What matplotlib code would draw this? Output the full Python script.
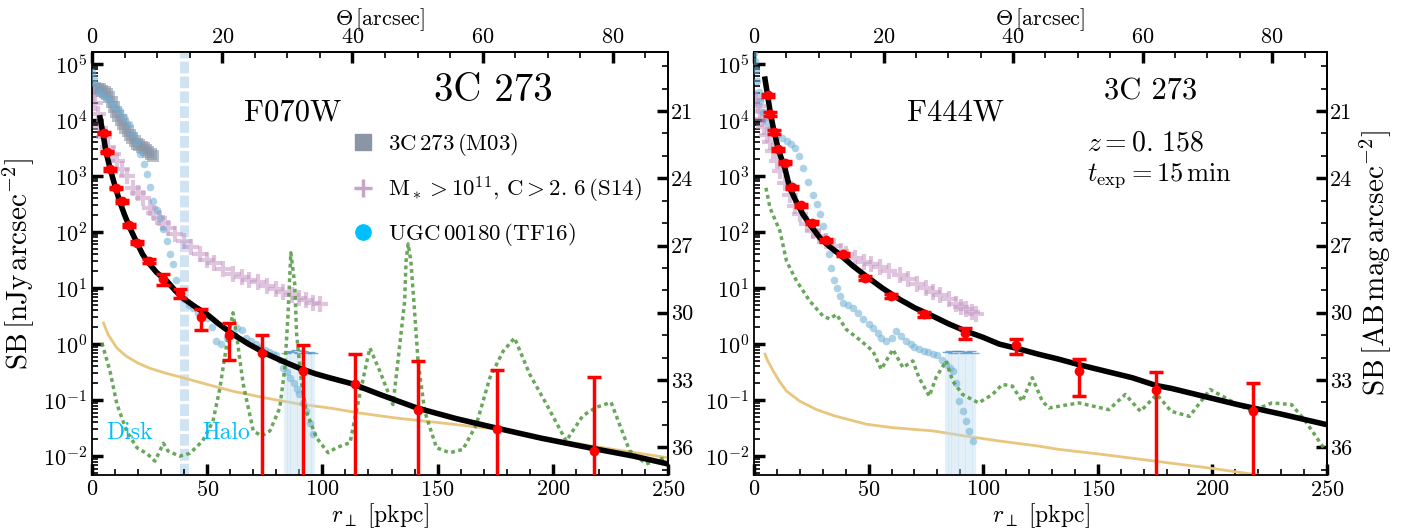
import numpy as np
import matplotlib
matplotlib.use("Agg")
import matplotlib.pyplot as plt
from matplotlib.lines import Line2D
from matplotlib.ticker import MultipleLocator, FormatStrFormatter, LogLocator, NullFormatter

plt.rcParams.update({
    "font.family": "serif",
    "font.serif": ["cmr10"],
    "mathtext.fontset": "cm",
    "axes.formatter.use_mathtext": True,
    "axes.linewidth": 1.3,
})

# ---------------- data (log10 SB in nJy/arcsec^2) ----------------
# F070W panel
m03_r = [0.5, 1.5, 2.5, 3.5, 4.5, 5.5, 6.5, 7.5, 8.5, 9.5, 10.5, 11.5, 12.5, 13.5,
         14.5, 15.5, 16.5, 17.5, 18.5, 19.5, 20.5, 21.5, 22.5, 23.5, 24.5, 25.5, 26.5]
m03_lsb = [4.55, 4.57, 4.56, 4.55, 4.52, 4.5, 4.47, 4.42, 4.33, 4.23, 4.14, 4.07, 4.0, 3.93,
           3.86, 3.8, 3.74, 3.68, 3.62, 3.58, 3.55, 3.52, 3.5, 3.47, 3.43, 3.39, 3.35]

s14_r_a = [0.5, 1.5, 2.5, 3.5, 5, 7, 9, 11, 13, 15, 18, 20, 22, 25, 27, 29, 31, 33, 36,
           40, 43, 47, 50, 53, 57, 61, 65, 68, 72, 76, 80, 83, 87, 90, 93, 96, 99]
s14_lsb_a = [4.45, 4.3, 4.1, 3.85, 3.7, 3.52, 3.4, 3.27, 3.12, 3.0, 2.79, 2.7, 2.6, 2.43, 2.34,
             2.25, 2.16, 2.07, 1.97, 1.84, 1.73, 1.6, 1.5, 1.44, 1.34, 1.25, 1.2, 1.15, 1.1,
             1.04, 0.98, 0.93, 0.87, 0.82, 0.78, 0.74, 0.71]

tf16_r_a = [0, 0.7, 1.5, 3, 4.5, 6.4, 8, 10, 12, 14, 16, 18, 19.5, 21, 22.5, 24, 25.3, 26.5,
            28, 29.5, 31, 32.5, 34, 35, 36.5, 38, 40, 42, 44, 46, 48, 50, 52, 54, 56, 58.5,
            61, 63, 65, 67, 69, 71, 73, 75, 77, 78.5, 80, 81.5, 83, 84.5, 86, 87.5, 89, 90,
            91.5, 93, 94.5, 96]
tf16_lsb_a = [4.85, 4.75, 4.65, 4.5, 4.45, 4.39, 4.32, 4.24, 4.16, 4.05, 3.93, 3.75, 3.6, 3.39,
              3.22, 3.03, 2.8, 2.55, 2.4, 2.25, 2.05, 1.84, 1.6, 1.43, 1.15, 0.89, 0.8, 0.7,
              0.64, 0.56, 0.5, 0.46, 0.3, 0.05, 0.0, 0.1, 0.2, 0.29, 0.25, 0.1, 0.05, 0.0,
              -0.07, -0.1, -0.15, -0.18, -0.2, -0.28, -0.43, -0.5, -0.6, -0.7, -0.8, -0.9,
              -1.05, -1.2, -1.4, -1.6]
tail_r_a = [84, 85.5, 87, 88.5, 90, 91.5, 93, 94.5, 96]
tail_up_a = [0.7, 0.75, 0.72, 0.78, 0.7, 0.74, 0.7, 0.72, 0.68]

model_r_a = [3.5, 4.8, 6, 7.8, 10, 12, 14, 16.5, 19, 22, 24, 28, 32.5, 36, 39.5, 45, 50, 55,
             61, 68, 76, 83, 90, 97, 103, 113, 125, 141, 158, 175.6, 195, 217, 235, 250]
model_lsb_a = [4.04, 3.75, 3.45, 3.14, 2.82, 2.55, 2.32, 2.07, 1.85, 1.6, 1.48, 1.28, 1.125,
               0.96, 0.82, 0.66, 0.53, 0.36, 0.18, 0.0, -0.18, -0.31, -0.43, -0.53, -0.6,
               -0.71, -0.9, -1.14, -1.33, -1.5, -1.68, -1.86, -2.0, -2.14]

orange_r_a = [5, 7, 10.8, 15, 20, 25, 32, 39.5, 50, 61, 75, 90, 103, 116, 132, 150, 175.6,
              200, 217, 250]
orange_lsb_a = [0.375, 0.17, -0.07, -0.22, -0.34, -0.43, -0.52, -0.6, -0.72, -0.84, -0.96,
                -1.07, -1.14, -1.23, -1.32, -1.4, -1.52, -1.7, -1.82, -2.03]

green_r_a = [4.3, 7.8, 10.8, 15, 19.5, 24, 27.3, 31, 33, 38, 42.5, 48, 52.5, 55.5, 58.5, 61.2,
             62.7, 65.6, 70, 73.6, 77.2, 81.5, 83.7, 85, 86.3, 88, 88.8, 91, 93, 97.4, 102.5,
             106, 112, 116.2, 120.6, 124.9, 130.6, 132.8, 135.7, 136.3, 137.2, 138.4, 140,
             141.5, 144.4, 149.5, 155.2, 161, 166.8, 172.6, 178.4, 183.4, 190, 197.2, 205.8,
             213, 218.8, 225.3, 233.3, 240.5, 249.2]
green_lsb_a = [0.02, -0.48, -1.07, -1.55, -1.85, -1.96, -2.09, -1.77, -1.91, -2.0, -1.95, -1.73,
               -1.38, -0.79, 0.0, 0.56, 0.17, -0.71, -1.55, -1.64, -1.55, -1.14, -0.42, 0.47,
               1.63, 1.07, 0.18, -0.71, -1.2, -1.67, -1.94, -1.85, -1.76, -0.9, -0.07, -0.48,
               -1.08, -0.3, 0.77, 1.48, 1.79, 1.48, 0.59, -0.3, -1.2, -1.85, -1.94, -1.88,
               -1.44, -0.61, -0.13, 0.11, -0.54, -1.07, -1.73, -1.28, -1.13, -1.04, -1.9,
               -2.14, -2.02]

red_r_a = [5.2, 6.4, 7.8, 10.4, 13.0, 16.0, 19.5, 24.7, 31.0, 38.0, 47.5, 59.5, 74.0, 91.6,
           114.0, 141.5, 175.6, 217.7]
red_sb_a = [5900, 2700, 1320, 617, 355, 132, 65, 30, 14.5, 8.1, 3.0, 1.45, 0.7, 0.33, 0.19,
            0.066, 0.03, 0.0123]
red_err_a = [300, 150, 70, 30, 18, 7, 4, 2.5, 3, 1.5, 1.2, 0.93, 0.75, 0.62, 0.47, 0.43,
             0.32, 0.25]

# F444W panel
s14_r_b = [0.3, 1, 1.8, 2.6, 3.5, 4.5, 5.5, 7, 8.4, 10, 11.3, 13.5, 15.6, 18, 20, 23, 25.8,
           28.5, 31.6, 35, 38, 40.3, 44, 48, 51, 54.8, 59, 63.5, 67, 71, 75, 78, 81, 85, 88,
           90.5, 92.5, 95, 97]
s14_lsb_b = [4.4, 4.35, 4.25, 4.16, 4.02, 3.88, 3.74, 3.6, 3.45, 3.27, 3.09, 2.88, 2.67, 2.47,
             2.32, 2.15, 2.02, 1.93, 1.84, 1.75, 1.66, 1.6, 1.53, 1.47, 1.43, 1.38, 1.3, 1.24,
             1.16, 1.08, 1.0, 0.93, 0.87, 0.8, 0.72, 0.67, 0.62, 0.57, 0.53]

tf16_r_b = [0, 0.4, 0.8, 1.2, 2, 2.6, 4, 5.5, 7.5, 9.9, 12, 14.2, 16, 17.8, 19.5, 21.4, 23.5,
            25.8, 27.3, 28.7, 30, 31.6, 32.7, 33.8, 35, 36, 37.5, 38.8, 41, 43.2, 45.5, 47.5,
            50, 51.9, 54, 55.5, 57.7, 60, 62, 64, 66.4, 68.5, 70, 72.2, 74, 76, 78, 80, 82,
            83.8, 85.5, 86.7, 88, 89.6, 91, 92.5, 94, 95.4]
tf16_lsb_b = [5.2, 5.05, 4.9, 4.7, 4.5, 4.34, 4.15, 3.98, 3.85, 3.74, 3.68, 3.63, 3.57, 3.5,
              3.35, 3.15, 2.9, 2.67, 2.5, 2.32, 2.1, 1.84, 1.6, 1.36, 1.15, 1.0, 0.85, 0.74,
              0.7, 0.65, 0.55, 0.44, 0.35, 0.29, 0.2, 0.1, 0.05, 0.1, 0.23, 0.15, 0.05, 0.0,
              -0.05, -0.095, -0.12, -0.15, -0.18, -0.2, -0.28, -0.36, -0.42, -0.48, -0.7,
              -1.02, -1.2, -1.38, -1.55, -1.73]
tail_r_b = [84, 85.5, 87, 88.5, 90, 91.5, 93, 94.5, 96]
tail_up_b = [0.72, 0.75, 0.7, 0.76, 0.74, 0.7, 0.73, 0.75, 0.7]

model_r_b = [4.8, 5.9, 7, 8.7, 10.5, 11.3, 13.4, 15.6, 18, 21.3, 25, 28.7, 33, 37.4, 43, 49,
             56, 63.5, 70, 78, 85, 92.5, 100, 107, 115, 124, 133, 142, 153, 165, 175.5, 182,
             196, 211, 230, 249]
model_lsb_b = [4.73, 4.45, 4.16, 3.8, 3.5, 3.39, 3.15, 2.79, 2.58, 2.32, 2.1, 1.9, 1.74, 1.6,
               1.4, 1.21, 1.0, 0.8, 0.65, 0.5, 0.36, 0.23, 0.12, 0.0, -0.08, -0.18, -0.27,
               -0.37, -0.48, -0.6, -0.74, -0.79, -0.93, -1.08, -1.25, -1.43]

orange_r_b = [4.8, 6, 8.4, 11, 14.2, 20, 27.3, 35, 49, 60, 78, 92, 107, 124, 133, 150, 175,
              200, 217, 235, 250]
orange_lsb_b = [-0.18, -0.3, -0.48, -0.66, -0.84, -1.02, -1.17, -1.28, -1.43, -1.49, -1.55,
                -1.64, -1.73, -1.82, -1.88, -1.96, -2.09, -2.22, -2.32, -2.42, -2.5]

green_r_b = [5.2, 7, 11.3, 14.2, 18.6, 24.3, 30.1, 33, 36, 40.3, 46, 51.9, 55.5, 60.6, 65,
             69.3, 72, 76.5, 79.4, 83.8, 86.7, 91, 98, 104, 108.4, 112.7, 117, 121.4, 125.8,
             128.7, 141.7, 154.8, 162, 168.6, 175.8, 182, 190, 199, 208.4, 217, 226, 234.5,
             240, 249]
green_lsb_b = [2.79, 2.43, 2.02, 1.48, 1.125, 0.77, 0.5, 0.45, 0.53, 0.26, 0.08, -0.125, -0.45,
               -0.095, -0.42, -0.3, -0.6, -0.93, -0.6, -0.3, -0.66, -0.9, -1.05, -0.9, -0.72,
               -0.75, -1.02, -0.6, -1.02, -1.14, -1.05, -1.17, -0.9, -1.2, -0.9, -1.2, -1.29,
               -0.81, -1.02, -1.2, -1.05, -1.08, -1.34, -1.88]

red_r_b = [5.9, 7.0, 8.7, 10.5, 13.4, 16.4, 20.7, 25.4, 31.3, 38.8, 48.3, 59.9, 74.3, 92.0,
           114.2, 141.7, 175.5, 217.8]
red_sb_b = [27500, 12900, 6200, 3000, 1740, 630, 300, 148, 71, 40, 15.1, 7.2, 3.4, 1.58, 0.95,
            0.33, 0.15, 0.063]
red_err_b = [2000, 900, 450, 200, 120, 45, 20, 10, 5, 3, 1.0, 0.6, 0.35, 0.35, 0.28, 0.21,
             0.17, 0.137]

# ---------------- helpers ----------------
KPC_PER_ARCSEC = 2.826
YLIM = (4.6e-3, 1.64e5)


def r2th(r):
    return np.asarray(r) / KPC_PER_ARCSEC


def th2r(t):
    return np.asarray(t) * KPC_PER_ARCSEC


def f2mag(f):
    f = np.clip(np.asarray(f, dtype=float), 1e-30, None)
    return 31.4 - 2.5 * np.log10(f)


def mag2f(m):
    return 10 ** ((31.4 - np.asarray(m, dtype=float)) / 2.5)


def p(v):
    return 10 ** np.asarray(v)


def style_axes(ax):
    ax.set_yscale("log")
    ax.set_xlim(0, 250)
    ax.set_ylim(*YLIM)
    ax.xaxis.set_major_locator(MultipleLocator(50))
    ax.xaxis.set_minor_locator(MultipleLocator(10))
    ax.yaxis.set_major_locator(LogLocator(base=10, numticks=20))
    ax.yaxis.set_minor_locator(LogLocator(base=10, subs=np.arange(2, 10), numticks=20))
    ax.yaxis.set_minor_formatter(NullFormatter())
    ax.tick_params(which="both", direction="in", top=False, right=False, labelsize=16)
    ax.tick_params(which="major", length=8, width=2.5)
    ax.tick_params(which="minor", length=4.5, width=1.2)
    ax.set_xlabel(r"$r_\perp\ [\mathrm{pkpc}]$", fontsize=17, labelpad=1)

    sx = ax.secondary_xaxis("top", functions=(r2th, th2r))
    sx.xaxis.set_major_locator(MultipleLocator(20))
    sx.xaxis.set_minor_locator(MultipleLocator(5))
    sx.xaxis.set_minor_formatter(NullFormatter())
    sx.tick_params(which="both", direction="in", labelsize=16)
    sx.tick_params(which="major", length=8, width=2.5)
    sx.tick_params(which="minor", length=4.5, width=1.2)
    sx.set_xlabel(r"$\Theta\,[\mathrm{arcsec}]$", fontsize=16, labelpad=2)

    sy = ax.secondary_yaxis("right", functions=(f2mag, mag2f))
    sy.yaxis.set_major_locator(MultipleLocator(3))
    sy.yaxis.set_minor_locator(MultipleLocator(1))
    sy.yaxis.set_major_formatter(FormatStrFormatter("%d"))
    sy.yaxis.set_minor_formatter(NullFormatter())
    sy.tick_params(which="both", direction="in", labelsize=16, pad=2)
    sy.tick_params(which="major", length=8, width=2.5)
    sy.tick_params(which="minor", length=4.5, width=1.2)
    return sy


def draw_profiles(ax, s14_r, s14_lsb, tf_r, tf_lsb, t_r, t_up, mr, ml, orr, orl, gr, gl,
                  rr, rsb, rerr):
    ax.plot(orr, p(orl), color="#e8c67e", lw=2, zorder=2)
    ax.plot(s14_r, p(s14_lsb), ls="none", marker="+", ms=12, mew=3, color="#c596c4",
            alpha=0.55, zorder=2)
    ax.vlines(t_r, YLIM[0], t_up, colors="#bcdaee", lw=3, alpha=0.4, zorder=2)
    ax.plot(t_r, t_up, ls="none", marker="_", ms=7, mew=1, color="#3d8cc6", alpha=0.7,
            zorder=3)
    ax.plot(tf_r, p(tf_lsb), ls="none", marker="o", ms=5.5, color="#6aaed6", alpha=0.55,
            mew=0, zorder=3)
    ax.plot(gr, p(gl), color="#5a9e4a", lw=2.5, ls=(0, (1.1, 1.0)), alpha=0.9, zorder=3)
    ax.plot(mr, p(ml), color="black", lw=4, zorder=4)
    ax.errorbar(rr, rsb, yerr=rerr, fmt="o", color="red", ms=6, elinewidth=2.5,
                capsize=5, capthick=2.5, zorder=5)


fig = plt.figure(figsize=(14.22, 5.31), dpi=100)
ax1 = fig.add_axes([92 / 1422, 1 - 475 / 531, 576 / 1422, 423 / 531])
ax2 = fig.add_axes([754 / 1422, 1 - 475 / 531, 573 / 1422, 423 / 531])

# ---- left panel: F070W ----
style_axes(ax1)
ax1.set_ylabel(r"$\mathrm{SB}\,[\mathrm{nJy\,arcsec^{-2}}]$", fontsize=21, labelpad=4)
ax1.axvline(40, color="#cfe3f2", lw=6.5, ls=(0, (1.3, 0.35)), zorder=1)
ax1.plot(m03_r, p(m03_lsb), ls="none", marker="s", ms=9, color="#8a95a5", alpha=0.6,
         mew=0, zorder=2)
draw_profiles(ax1, s14_r_a, s14_lsb_a, tf16_r_a, tf16_lsb_a, tail_r_a, tail_up_a,
              model_r_a, model_lsb_a, orange_r_a, orange_lsb_a, green_r_a, green_lsb_a,
              red_r_a, red_sb_a, red_err_a)
ax1.text(0.349, 0.856, "F070W", transform=ax1.transAxes, fontsize=22, ha="center",
         va="center")
ax1.text(0.697, 0.908, "3C 273", transform=ax1.transAxes, fontsize=28, ha="center",
         va="center")
ax1.text(6, 0.026, "Disk", color="#00bfff", fontsize=17, ha="left", va="center")
ax1.text(48, 0.026, "Halo", color="#00bfff", fontsize=17, ha="left", va="center")

handles = [
    Line2D([], [], ls="none", marker="s", ms=11, color="#8a95a5"),
    Line2D([], [], ls="none", marker="+", ms=13, mew=2.5, color="#c9a3c9"),
    Line2D([], [], ls="none", marker="o", ms=11, color="#00bfff"),
]
labels = [r"$\mathrm{3C\,273\,(M03)}$",
          r"$\mathrm{M_*>10^{11},\,C>2.\,6\,(S14)}$",
          r"$\mathrm{UGC\,00180\,(TF16)}$"]
ax1.legend(handles, labels, loc="upper left", bbox_to_anchor=(0.435, 0.835), frameon=False,
           fontsize=16.5, labelspacing=0.72, handletextpad=0.6, handlelength=1.0,
           borderaxespad=0)

# ---- right panel: F444W ----
sy2 = style_axes(ax2)
sy2.set_ylabel(r"$\mathrm{SB}\,[\mathrm{AB\,mag\,arcsec^{-2}}]$", fontsize=21, labelpad=4)
draw_profiles(ax2, s14_r_b, s14_lsb_b, tf16_r_b, tf16_lsb_b, tail_r_b, tail_up_b,
              model_r_b, model_lsb_b, orange_r_b, orange_lsb_b, green_r_b, green_lsb_b,
              red_r_b, red_sb_b, red_err_b)
ax2.text(0.351, 0.856, "F444W", transform=ax2.transAxes, fontsize=22, ha="center",
         va="center")
ax2.text(0.693, 0.907, "3C 273", transform=ax2.transAxes, fontsize=22, ha="center",
         va="center")
ax2.text(0.582, 0.785, r"$z = 0.\,158$", transform=ax2.transAxes, fontsize=20, ha="left",
         va="center")
ax2.text(0.582, 0.709, r"$t_{\rm exp} = 15\,{\rm min}$", transform=ax2.transAxes,
         fontsize=19, ha="left", va="center")

fig.savefig("out.png", dpi=100)
